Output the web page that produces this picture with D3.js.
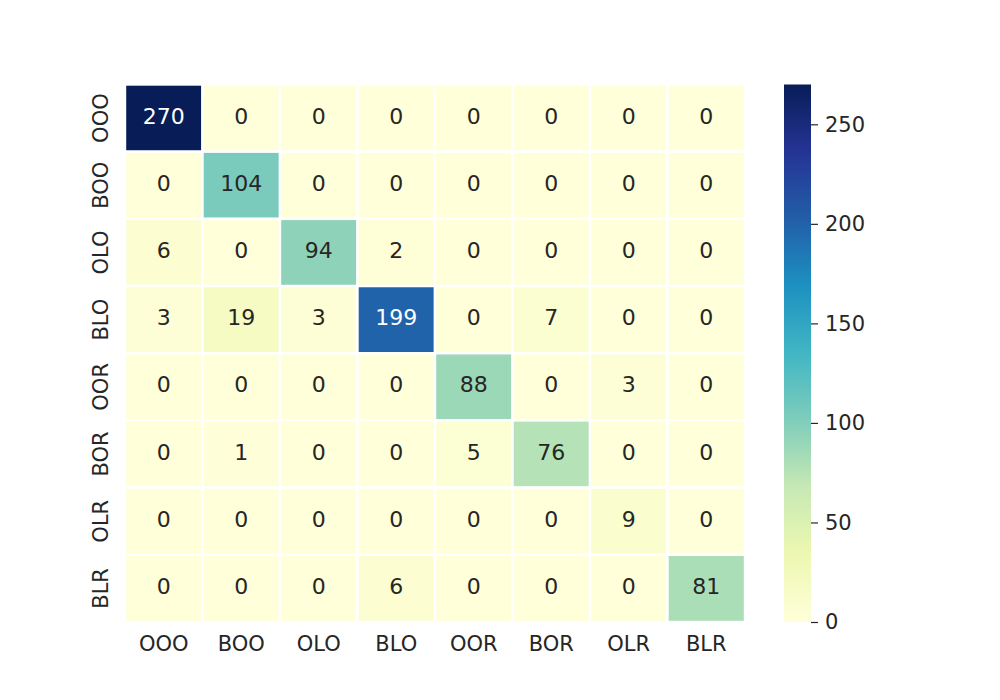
<!DOCTYPE html>
<html>
<head>
<meta charset="utf-8">
<script src="https://cdn.jsdelivr.net/npm/d3@7"></script>
<style>
  body { margin: 0; background: #fff; }
  svg { display: block; font-family: "DejaVu Sans", sans-serif; }
</style>
</head>
<body>
<svg id="chart" width="1000" height="700"></svg>
<script>
const rowLabels = ["OOO", "BOO", "OLO", "BLO", "OOR", "BOR", "OLR", "BLR"];
const colLabels = ["OOO", "BOO", "OLO", "BLO", "OOR", "BOR", "OLR", "BLR"];
const matrix = [
  [270, 0, 0, 0, 0, 0, 0, 0],
  [0, 104, 0, 0, 0, 0, 0, 0],
  [6, 0, 94, 2, 0, 0, 0, 0],
  [3, 19, 3, 199, 0, 7, 0, 0],
  [0, 0, 0, 0, 88, 0, 3, 0],
  [0, 1, 0, 0, 5, 76, 0, 0],
  [0, 0, 0, 0, 0, 0, 9, 0],
  [0, 0, 0, 6, 0, 0, 0, 81]
];
const colorbarTicks = [0, 50, 100, 150, 200, 250];
const ylgnbu = ["#ffffd9", "#edf8b1", "#c7e9b4", "#7fcdbb", "#41b6c4", "#1d91c0", "#225ea8", "#253494", "#081d58"];

const svg = d3.select("#chart");
const pLeft = 125, pRight = 745, pTop = 84.5, pBottom = 622;
const vmin = 0, vmax = d3.max(matrix.flat());

const x = d3.scaleBand().domain(colLabels).range([pLeft, pRight]);
const y = d3.scaleBand().domain(rowLabels).range([pTop, pBottom]);
const color = d3.scaleLinear()
  .domain(ylgnbu.map((_, i) => vmin + (vmax - vmin) * i / (ylgnbu.length - 1)))
  .range(ylgnbu)
  .interpolate(d3.interpolateRgb)
  .clamp(true);

const cells = [];
matrix.forEach((row, i) => row.forEach((v, j) => cells.push({ r: rowLabels[i], c: colLabels[j], v })));

svg.append("g").selectAll("rect").data(cells).join("rect")
  .attr("x", d => x(d.c))
  .attr("y", d => y(d.r))
  .attr("width", x.bandwidth())
  .attr("height", y.bandwidth())
  .attr("fill", d => color(d.v))
  .attr("stroke", "#fff")
  .attr("stroke-width", 2.4);

function textColor(v) {
  const c = d3.rgb(color(v));
  const lin = ch => { ch /= 255; return ch <= 0.03928 ? ch / 12.92 : Math.pow((ch + 0.055) / 1.055, 2.4); };
  const lum = 0.2126 * lin(c.r) + 0.7152 * lin(c.g) + 0.0722 * lin(c.b);
  return lum > 0.408 ? "#262626" : "#ffffff";
}

svg.append("g").selectAll("text").data(cells).join("text")
  .attr("x", d => x(d.c) + x.bandwidth() / 2)
  .attr("y", d => y(d.r) + y.bandwidth() / 2 - 2)
  .attr("text-anchor", "middle")
  .attr("dominant-baseline", "central")
  .attr("font-size", 22)
  .attr("fill", d => textColor(d.v))
  .text(d => d.v);

// x axis
const xAxis = svg.append("g").attr("transform", `translate(0,${pBottom})`)
  .call(d3.axisBottom(x).tickSize(0).tickPadding(14));
xAxis.select(".domain").remove();
xAxis.selectAll("text").attr("font-size", 21).attr("fill", "#262626").attr("font-family", "DejaVu Sans");

// y axis
const yAxis = svg.append("g").attr("transform", `translate(${pLeft},0)`)
  .call(d3.axisLeft(y).tickSize(0).tickPadding(0));
yAxis.select(".domain").remove();
yAxis.selectAll(".tick text")
  .attr("font-size", 21).attr("fill", "#262626").attr("font-family", "DejaVu Sans")
  .attr("x", 0).attr("dy", null)
  .attr("text-anchor", "middle")
  .attr("dominant-baseline", "central")
  .attr("transform", "translate(-24,0) rotate(-90)");

// colorbar
const cbLeft = 784, cbWidth = 27;
const defs = svg.append("defs");
const grad = defs.append("linearGradient").attr("id", "cbgrad")
  .attr("x1", 0).attr("y1", 1).attr("x2", 0).attr("y2", 0);
ylgnbu.forEach((c, i) => grad.append("stop").attr("offset", i / (ylgnbu.length - 1)).attr("stop-color", c));
svg.append("rect").attr("x", cbLeft).attr("y", pTop).attr("width", cbWidth).attr("height", pBottom - pTop)
  .attr("fill", "url(#cbgrad)");

const cbScale = d3.scaleLinear().domain([vmin, vmax]).range([pBottom, pTop]);
const cbAxis = svg.append("g").attr("transform", `translate(${cbLeft + cbWidth},0)`)
  .call(d3.axisRight(cbScale).tickValues(colorbarTicks).tickSize(7).tickPadding(7).tickFormat(d3.format("d")));
cbAxis.select(".domain").remove();
cbAxis.selectAll("line").attr("stroke", "#262626").attr("stroke-width", 1.2);
cbAxis.selectAll("text").attr("font-size", 21).attr("fill", "#262626").attr("font-family", "DejaVu Sans");
</script>
</body>
</html>
